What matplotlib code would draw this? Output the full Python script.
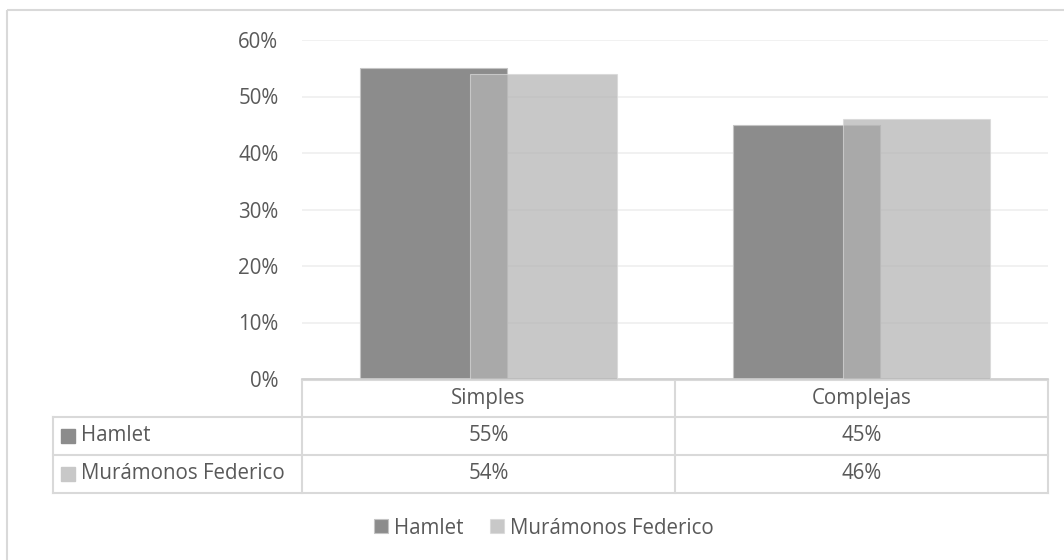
import numpy as np
import matplotlib
matplotlib.use("Agg")
from matplotlib import pyplot as plt
from matplotlib.patches import Rectangle

categories = ["Simples", "Complejas"]
series_names = ["Hamlet", "Murámonos Federico"]
hamlet = [55, 45]
muramonos = [54, 46]
y_ticks = [0, 10, 20, 30, 40, 50, 60]

plt.rcParams['font.family'] = ['Open Sans', 'DejaVu Sans']
txt = '#595959'
line = '#d9d9d9'
fs = 14.8

fig = plt.figure(figsize=(10.64, 5.6), dpi=100)
W, H = 1064, 560

# overlay for border and table (pixel coords)
fa = fig.add_axes([0, 0, 1, 1])
fa.set_xlim(0, W)
fa.set_ylim(H, 0)
fa.axis('off')
fa.add_patch(Rectangle((7, 10), W, H, fill=False, ec=line, lw=1.5))

# main chart axes
left, right, top, bottom = 302, 1048, 40, 379
ax = fig.add_axes([left / W, 1 - bottom / H, (right - left) / W, (bottom - top) / H])
ind = np.arange(len(categories))
bw = 0.394
ax.bar(ind - 0.147, hamlet, bw, color='#8c8c8c', edgecolor='#c4c4c4', linewidth=0.8,
       label=series_names[0], zorder=2)
ax.bar(ind + 0.147, muramonos, bw, color='#b4b4b4', alpha=0.73, edgecolor='#d8d8d8',
       linewidth=0.8, label=series_names[1], zorder=3)
ax.set_xlim(-0.5, len(categories) - 0.5)
ax.set_ylim(0, 60)
ax.set_yticks(y_ticks)
ax.set_yticklabels([f"{v}%" for v in y_ticks], color=txt, fontsize=fs)
ax.tick_params(axis='y', length=0, pad=17)
ax.set_xticks([])
ax.grid(axis='y', color='#efefef', linewidth=1.2, zorder=0)
ax.set_axisbelow(True)
for s in ['top', 'right', 'left']:
    ax.spines[s].set_visible(False)
ax.spines['bottom'].set_color('#cfcfcf')
ax.spines['bottom'].set_linewidth(1.2)

# data table
rows_y = [380, 416.7, 455, 492.7]
col_x = [52.7, 302, 675, 1048]
kw = dict(color=line, lw=1.5)
fa.plot([col_x[1], col_x[3]], [rows_y[0], rows_y[0]], **kw)
for y in rows_y[1:]:
    fa.plot([col_x[0], col_x[3]], [y, y], **kw)
fa.plot([col_x[0], col_x[0]], [rows_y[1], rows_y[3]], **kw)
for x in col_x[1:]:
    fa.plot([x, x], [rows_y[0], rows_y[3]], **kw)

centers = [(col_x[1] + col_x[2]) / 2, (col_x[2] + col_x[3]) / 2]
for cx, cat in zip(centers, categories):
    fa.text(cx, (rows_y[0] + rows_y[1]) / 2, cat, ha='center', va='center', color=txt, fontsize=fs)
row_colors = ['#8c8c8c', '#c8c8c8']
for i, (name, vals) in enumerate(zip(series_names, [hamlet, muramonos])):
    cy = (rows_y[i + 1] + rows_y[i + 2]) / 2
    fa.add_patch(Rectangle((61, cy - 7), 14, 14, color=row_colors[i]))
    fa.text(81, cy, name, ha='left', va='center', color=txt, fontsize=fs)
    for cx, v in zip(centers, vals):
        fa.text(cx, cy, f"{v}%", ha='center', va='center', color=txt, fontsize=fs)

# bottom legend
handles, labels = ax.get_legend_handles_labels()
fig.legend(handles, labels, loc='center', bbox_to_anchor=(544 / W, 1 - 528 / H), ncol=2,
           frameon=False, fontsize=fs, labelcolor=txt, handlelength=0.65, handleheight=0.65,
           handletextpad=0.3, columnspacing=1.3)

fig.savefig('out.png', dpi=100)
